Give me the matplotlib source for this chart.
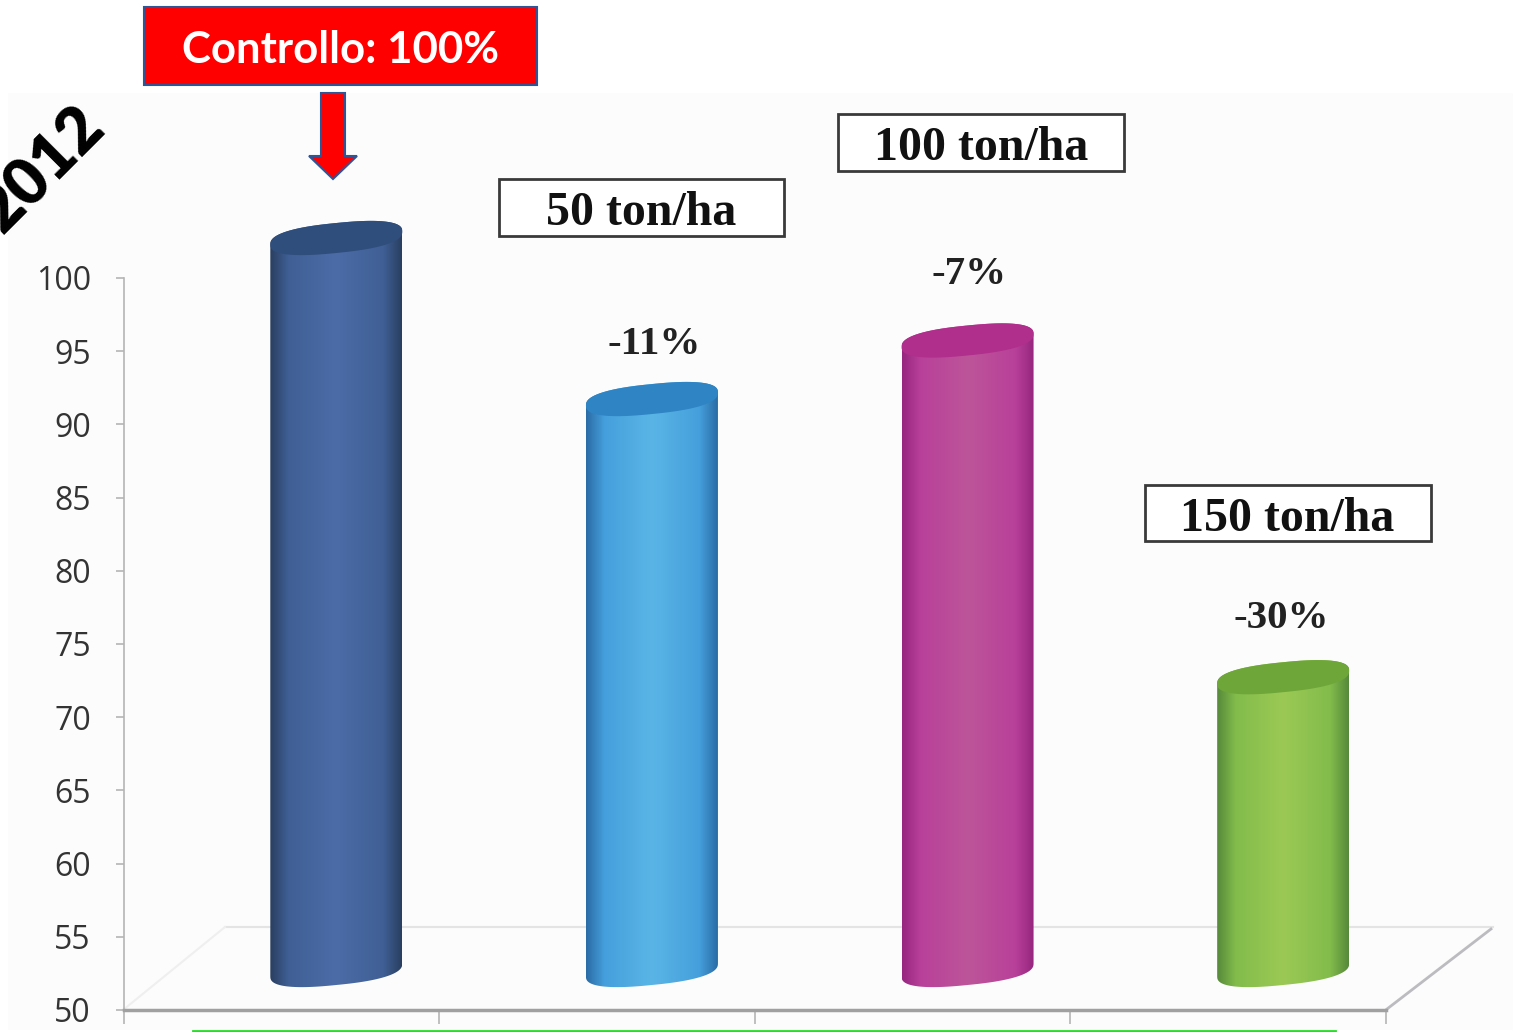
import numpy as np
import matplotlib
matplotlib.use('Agg')
import matplotlib.pyplot as plt
from matplotlib.colors import LinearSegmentedColormap
from matplotlib.patches import Polygon, Rectangle

W, H = 1513, 1032

# Resa per dose, controllo = 100
valori = [100, 89, 93, 70]
etichette = ['', '-11%', '-7%', '-30%']
dosi = ['50 ton/ha', '100 ton/ha', '150 ton/ha']
ticks_y = list(range(50, 101, 5))

# bordo, intermedio, centro, faccia superiore
colori = [
    ['#2a3f60', '#3f5f95', '#4c6ca8', '#2f4e7c'],
    ['#2a6ca6', '#459fdc', '#5ab5e6', '#2f84c4'],
    ['#96267f', '#b8409a', '#bd5599', '#b02e8c'],
    ['#57893a', '#82bc4b', '#9cc955', '#6fa63a'],
]

fig = plt.figure(figsize=(W / 100, H / 100), dpi=100, facecolor='white')

# Livello in pixel per sfondo, pavimento e riquadri
bg = fig.add_axes([0, 0, 1, 1], zorder=1)
bg.set_xlim(0, W)
bg.set_ylim(H, 0)
bg.axis('off')

bg.add_patch(Rectangle((8, 93), W - 8, 937, fc='#fcfcfc', ec='none'))
bg.plot([225, 1493], [927, 927], color='#e4e4e4', lw=1.5)
bg.plot([123, 225], [1010, 927], color='#efefef', lw=1.5)
bg.plot([1387, 1491], [1009, 929], color='#bcbcc0', lw=2)
bg.plot([193, 1335], [1031, 1031], color='#22e022', lw=2)

# Riquadro rosso e freccia del controllo
bg.add_patch(Rectangle((144, 7), 393, 78, fc='#ff0000', ec='#2f5597', lw=1.5))
bg.text(340, 50, 'Controllo: 100%', color='white', fontsize=31.5, fontweight='bold',
        family='Lato', ha='center', va='center')
freccia = [(321, 93), (345, 93), (345, 156), (357, 156), (333, 179), (309, 156), (321, 156)]
bg.add_patch(Polygon(freccia, fc='#ff0000', ec='#2f5597', lw=1.5))

bg.text(42, 170, '2012', rotation=45, color='black', fontsize=46, fontweight='heavy',
        family='Lato', ha='center', va='center', rotation_mode='anchor')

# Riquadri delle dosi
riquadri = [(499, 179, 285, 57), (838, 114, 286, 57), (1145, 485, 286, 56)]
centri = [(641, 213), (981, 148), (1287, 519)]
for d, r, c in zip(dosi, riquadri, centri):
    bg.add_patch(Rectangle(r[:2], r[2], r[3], fc='white', ec='#3a3a3a', lw=2))
    bg.text(c[0], c[1], d, family='Liberation Serif', fontweight='bold', fontsize=34.5,
            color='#111111', ha='center', va='center')

# Percentuali sopra le barre
pos_etichette = [None, (654, 344), (969, 274), (1281, 619)]
for e, p in zip(etichette, pos_etichette):
    if e:
        bg.text(p[0], p[1], e, family='Liberation Serif', fontweight='bold', fontsize=29.5,
                color='#222222', ha='center', va='center')

# Assi del grafico
x0, x1 = 123.5, 1386
y0, y1 = 1010, 278
ax = fig.add_axes([x0 / W, 1 - y0 / H, (x1 - x0) / W, (y0 - y1) / H], zorder=2)
ax.patch.set_visible(False)
for s in ['top', 'right']:
    ax.spines[s].set_visible(False)
ax.spines['left'].set_color('#b4b4b4')
ax.spines['left'].set_linewidth(1.2)
ax.spines['bottom'].set_color('#a0a0a0')
ax.spines['bottom'].set_linewidth(2.5)

ux = (x1 - x0) / 4  # pixel per categoria
uy = (y0 - y1) / 50  # pixel per unita


def cilindro(i, v, col):
    # Spostamento prospettico del grafico 3D
    cx = i + 0.5 + 55 / ux
    base = 50 + 40 / uy
    cima = v + 40 / uy
    a = 66 / ux
    sl = 6.5 / uy
    b = 15 / uy

    def ellisse(cy, t):
        # esponente < 1: spalle piu piene di un'ellisse pura
        c = np.sign(np.cos(t)) * np.abs(np.cos(t)) ** 0.8
        s = np.sign(np.sin(t)) * np.abs(np.sin(t)) ** 0.8
        return np.column_stack([cx + a * c, cy + sl * c + b * s])

    sotto = ellisse(base, np.linspace(np.pi, 2 * np.pi, 60))
    sopra = ellisse(cima, np.linspace(0, np.pi, 60))
    corpo = Polygon(np.vstack([sotto, sopra]), fc='none', ec='none', transform=ax.transData,
                    clip_on=False)
    ax.add_patch(corpo)

    cmap = LinearSegmentedColormap.from_list('c', [
        (0, col[0]), (0.14, col[1]), (0.5, col[2]), (0.86, col[1]), (1, col[0])])
    grad = np.linspace(0, 1, 256).reshape(1, -1)
    im = ax.imshow(grad, cmap=cmap, aspect='auto', interpolation='bilinear',
                   extent=[cx - a, cx + a, base - 2, cima + 2], zorder=3)
    im.set_clip_box(fig.bbox)
    im.set_clip_path(corpo)

    faccia = ellisse(cima, np.linspace(0, 2 * np.pi, 120))
    ax.add_patch(Polygon(faccia, fc=col[3], ec='none', zorder=4, clip_on=False))


for i, (v, col) in enumerate(zip(valori, colori)):
    cilindro(i, v, col)

ax.set_xlim(0, 4)
ax.set_ylim(50, 100)
ax.set_xticks(range(5))
ax.set_xticklabels([])
ax.set_yticks(ticks_y)
ax.tick_params(axis='x', length=10, width=1.2, color='#b4b4b4')
ax.tick_params(axis='y', length=6, width=1.2, color='#b4b4b4', pad=17.5)
for t in ax.get_yticklabels():
    t.set_family('Open Sans')
    t.set_fontsize(23)
    t.set_color('#333333')

fig.savefig('out.png', dpi=100)
